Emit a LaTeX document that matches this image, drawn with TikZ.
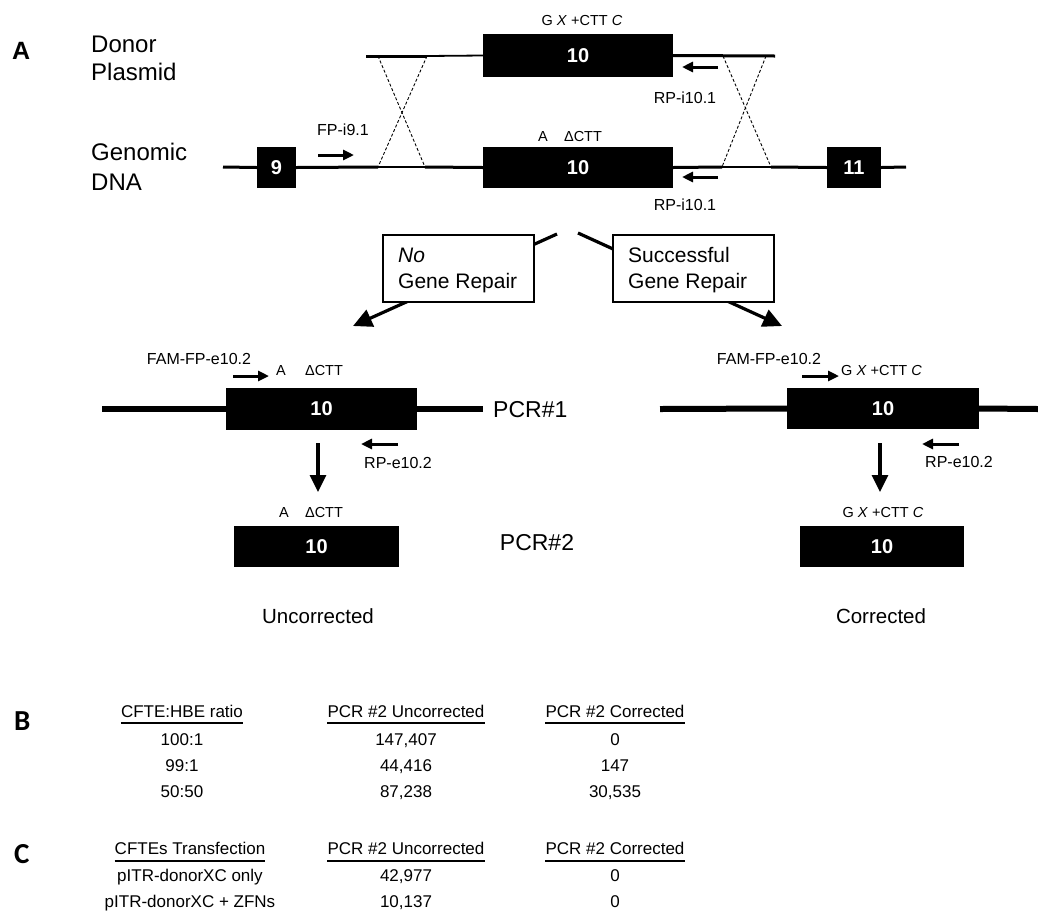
\documentclass[tikz,border=0pt]{standalone}
\usepackage{fontspec}
\setmainfont{Liberation Sans}
\newfontfamily\calib{Carlito}
\usetikzlibrary{arrows.meta}
\newcommand{\fsz}[1]{\fontsize{#1}{#1}\selectfont}
\begin{document}
\begin{tikzpicture}[x=1pt,y=-1pt,
  exon/.style={fill=black, draw=none, text=white, font=\bfseries\fsz{20}, inner sep=0pt, minimum height=41pt},
  dna/.style={line width=3pt},
  thindna/.style={line width=1.8pt},
  pcrdna/.style={line width=6pt},
  cross/.style={line width=0.9pt, dash pattern=on 3pt off 2pt},
  primer/.style={line width=3pt, -{Triangle[length=11pt,width=10pt]}},
  bigarrow/.style={line width=3.2pt, -{Triangle[length=17pt,width=16pt]}},
  diagarrow/.style={line width=3.2pt, -{Triangle[length=19pt,width=18pt]}},
  lbl/.style={font=\fsz{16}, inner sep=0pt, anchor=base},
  mut/.style={font=\fsz{14.5}, inner sep=0pt, anchor=base},
  side/.style={font=\fsz{24}, inner sep=0pt, anchor=base west},
  repairbox/.style={draw, line width=1.4pt, fill=white, inner sep=0pt},
  boxtxt/.style={font=\fsz{21}, inner sep=0pt, anchor=base west},
  tab/.style={font=\fsz{17}, inner sep=0pt, anchor=base},
  uline/.style={line width=2pt},
  panel/.style={font=\calib\bfseries\fsz{29}, inner sep=0pt, anchor=base west}
]
\useasboundingbox (0,0) rectangle (1038,914);
\fill[white] (0,0) rectangle (1038,914);

% ---------------- Panel A ----------------
\node[font=\bfseries\fsz{25}, inner sep=0pt, anchor=base west] (labA) at (12,59) {A};
\node[side] (donor1) at (91,52) {Donor};
\node[side] (donor2) at (91,80) {Plasmid};
\node[side] (gen1) at (91,160) {Genomic};
\node[side] (gen2) at (91,190) {DNA};

% exon boxes
\node[exon, minimum width=190pt, minimum height=43pt] (d10) at (578,55.5) {10};
\node[exon, minimum width=39pt] (g9) at (276.5,167.5) {9};
\node[exon, minimum width=190pt] (g10) at (578,167.5) {10};
\node[exon, minimum width=54pt] (g11) at (854,167.5) {11};

% donor plasmid line
\coordinate (dL) at (366,56);
\coordinate (dR) at (775,56);
\coordinate (xa1) at (378,56);
\coordinate (xa2) at (427,56);
\coordinate (xc1) at (723,56);
\coordinate (xc2) at (766,56);
\draw[dna] (dL) -- (xa2);
\draw[thindna] (xa2) -- (d10.west);
\draw[dna] (d10.east) -- (dR);

% genomic line
\coordinate (gL) at (223,167);
\coordinate (gR) at (906,167);
\coordinate (xb1) at (378,167);
\coordinate (xb2) at (425,167);
\coordinate (xd1) at (722,167);
\coordinate (xd2) at (771,167);
\draw[dna] (gL) -- (g9.west);
\draw[dna] (g9.east) -- (xb1);
\draw[thindna] (xb1) -- (xb2);
\draw[dna] (xb2) -- (g10.west);
\draw[dna] (g10.east) -- (xd1);
\draw[thindna] (xd1) -- (xd2);
\draw[dna] (xd2) -- (g11.west);
\draw[dna] (g11.east) -- (gR);

% crossovers
\draw[cross] (xa1) -- (xb2);
\draw[cross] (xa2) -- (xb1);
\draw[cross] (xc1) -- (xd2);
\draw[cross] (xc2) -- (xd1);

% mutation labels
\node[mut] (mutD) at (582,25) {G \textit{X} +CTT \textit{C}};
\node[mut] (mutGa) at (543,141) {A};
\node[mut] (mutGb) at (583,141) {ΔCTT};

% primers
\coordinate (fp1a) at (318,155);
\coordinate (fp1b) at (354,155);
\draw[primer] (fp1a) -- (fp1b);
\node[lbl] (fpi91) at (343,135) {FP-i9.1};
\coordinate (rp1a) at (718,67);
\coordinate (rp1b) at (682,67);
\draw[primer] (rp1a) -- (rp1b);
\node[lbl] (rpi101a) at (685,103) {RP-i10.1};
\coordinate (rp2a) at (718,177);
\coordinate (rp2b) at (682,177);
\draw[primer] (rp2a) -- (rp2b);
\node[lbl] (rpi101b) at (685,210) {RP-i10.1};

% branching arrows
\coordinate (brL0) at (557,234);
\coordinate (brL1) at (353,326);
\coordinate (brR0) at (578,233);
\coordinate (brR1) at (782,326);
\draw[diagarrow] (brL0) -- (brL1);
\draw[diagarrow] (brR0) -- (brR1);
\node[repairbox, minimum width=151pt, minimum height=67pt] (noRep) at (458.5,268.5) {};
\node[boxtxt] (noTxt1) at (398,262) {\textit{No}};
\node[boxtxt] (noTxt2) at (398,288) {Gene Repair};
\node[repairbox, minimum width=161pt, minimum height=67pt] (yesRep) at (693.5,268.5) {};
\node[boxtxt] (yesTxt1) at (628,262) {Successful};
\node[boxtxt] (yesTxt2) at (628,288) {Gene Repair};

% PCR#1 left
\node[exon, minimum width=191pt, minimum height=42pt] (p1L) at (321.5,409) {10};
\coordinate (p1Ll) at (102,409);
\coordinate (p1Lr) at (483,409);
\draw[pcrdna] (p1Ll) -- (p1L.west);
\draw[pcrdna] (p1L.east) -- (p1Lr);
\node[font=\fsz{23}, inner sep=0pt, anchor=west] (pcr1) at (493,410) {PCR\#1};
\node[lbl] (famL) at (199,364) {FAM-FP-e10.2};
\coordinate (fpLa) at (233,376);
\coordinate (fpLb) at (269,376);
\draw[primer] (fpLa) -- (fpLb);
\node[mut] (mLa) at (281,375) {A};
\node[mut] (mLb) at (324,375) {ΔCTT};
\coordinate (rpLa) at (398,444);
\coordinate (rpLb) at (361,444);
\draw[primer] (rpLa) -- (rpLb);
\node[lbl] (rpeL) at (398,468) {RP-e10.2};

% PCR#1 right
\node[exon, minimum width=192pt, minimum height=41pt] (p1R) at (883,408.5) {10};
\coordinate (p1Rl) at (660,409);
\coordinate (p1Rr) at (1038,409);
\draw[pcrdna] (p1Rl) -- (p1R.west);
\draw[pcrdna] (p1R.east) -- (p1Rr);
\node[lbl] (famR) at (769,364) {FAM-FP-e10.2};
\coordinate (fpRa) at (802,376);
\coordinate (fpRb) at (839,376);
\draw[primer] (fpRa) -- (fpRb);
\node[mut, anchor=base west] (mR) at (841,375) {G \textit{X} +CTT \textit{C}};
\coordinate (rpRa) at (959,444);
\coordinate (rpRb) at (922,444);
\draw[primer] (rpRa) -- (rpRb);
\node[lbl] (rpeR) at (959,467) {RP-e10.2};

% PCR#2
\node[exon, minimum width=165pt] (p2L) at (316.5,546.5) {10};
\node[exon, minimum width=164pt] (p2R) at (882,546.5) {10};
\node[font=\fsz{23}, inner sep=0pt] (pcr2) at (537,543) {PCR\#2};
\node[mut] (m2La) at (284,517) {A};
\node[mut] (m2Lb) at (324,517) {ΔCTT};
\node[mut] (m2R) at (883,517) {G \textit{X} +CTT \textit{C}};
\coordinate (dnL) at (318,443);
\coordinate (dnR) at (880,443);
\draw[bigarrow] (dnL) -- (318,492);
\draw[bigarrow] (dnR) -- (880,492);
\node[font=\fsz{20.5}, inner sep=0pt, anchor=base] (unc) at (318,623) {Uncorrected};
\node[font=\fsz{20.5}, inner sep=0pt, anchor=base] (cor) at (881,623) {Corrected};

% ---------------- Panel B ----------------
\node[panel] (labB) at (14,730) {B};
\coordinate (uyB) at (0,723);
\node[tab] (bh1) at (182,717) {CFTE:HBE ratio};
\node[tab] (bh2) at (406,717) {PCR \#2 Uncorrected};
\node[tab] (bh3) at (615,717) {PCR \#2 Corrected};
\draw[uline] (bh1.west |- uyB) -- (bh1.east |- uyB);
\draw[uline] (bh2.west |- uyB) -- (bh2.east |- uyB);
\draw[uline] (bh3.west |- uyB) -- (bh3.east |- uyB);
\node[tab] (b11) at (182,745) {100:1};
\node[tab] (b12) at (406,745) {147,407};
\node[tab] (b13) at (615,745) {0};
\node[tab] (b21) at (182,771) {99:1};
\node[tab] (b22) at (406,771) {44,416};
\node[tab] (b23) at (615,771) {147};
\node[tab] (b31) at (182,797) {50:50};
\node[tab] (b32) at (406,797) {87,238};
\node[tab] (b33) at (615,797) {30,535};

% ---------------- Panel C ----------------
\node[panel] (labC) at (14,863) {C};
\coordinate (uyC) at (0,861);
\node[tab] (ch1) at (190,854) {CFTEs Transfection};
\node[tab] (ch2) at (406,854) {PCR \#2 Uncorrected};
\node[tab] (ch3) at (615,854) {PCR \#2 Corrected};
\draw[uline] (ch1.west |- uyC) -- (ch1.east |- uyC);
\draw[uline] (ch2.west |- uyC) -- (ch2.east |- uyC);
\draw[uline] (ch3.west |- uyC) -- (ch3.east |- uyC);
\node[tab] (c11) at (190,881) {pITR-donorXC only};
\node[tab] (c12) at (406,881) {42,977};
\node[tab] (c13) at (615,881) {0};
\node[tab] (c21) at (190,907) {pITR-donorXC + ZFNs};
\node[tab] (c22) at (406,907) {10,137};
\node[tab] (c23) at (615,907) {0};
\end{tikzpicture}
\end{document}
